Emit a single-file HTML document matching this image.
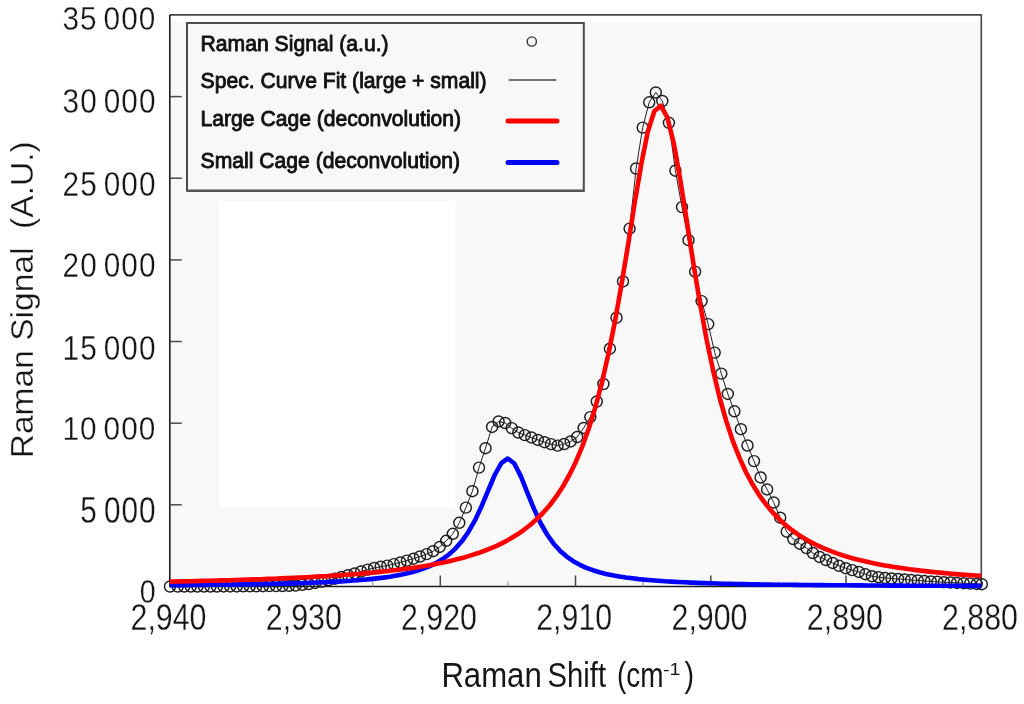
<!DOCTYPE html>
<html lang="en"><head><meta charset="utf-8"><title>Raman Spectrum</title>
<style>html,body{margin:0;padding:0;background:#fff;}body{width:1024px;height:704px;overflow:hidden;}svg{display:block;}</style>
</head><body>
<svg width="1024" height="704" viewBox="0 0 1024 704" font-family="'Liberation Sans', sans-serif">
<rect x="0" y="0" width="1024" height="704" fill="#fff"/>
<rect x="169.8" y="14.9" width="811.5" height="571.6" fill="#f8f8f8"/>
<rect x="171" y="16" width="810" height="6" fill="#fff"/>
<rect x="219" y="201" width="236.3" height="306" fill="#fff"/>
<g stroke="#4a4a4a" stroke-width="1.5" fill="none">
<path d="M169.8,14.9 H981.3 V586.5" stroke="#484848" stroke-width="1.6"/>
<path d="M169.8,14.9 V586.5 H981.3" stroke="#1c1c1c" stroke-width="1.6"/>
<path d="M169.8,504.8 h12"/>
<path d="M169.8,423.2 h12"/>
<path d="M169.8,341.5 h12"/>
<path d="M169.8,259.9 h12"/>
<path d="M169.8,178.2 h12"/>
<path d="M169.8,96.6 h12"/>
<path d="M237.4,586.5 v-5" stroke="#888" stroke-width="1"/>
<path d="M305.1,586.5 v-11"/>
<path d="M372.7,586.5 v-5" stroke="#888" stroke-width="1"/>
<path d="M440.3,586.5 v-11"/>
<path d="M507.9,586.5 v-5" stroke="#888" stroke-width="1"/>
<path d="M575.5,586.5 v-11"/>
<path d="M643.2,586.5 v-5" stroke="#888" stroke-width="1"/>
<path d="M710.8,586.5 v-11"/>
<path d="M778.4,586.5 v-5" stroke="#888" stroke-width="1"/>
<path d="M846.0,586.5 v-11"/>
<path d="M913.7,586.5 v-5" stroke="#888" stroke-width="1"/>
</g>
<path d="M170.0,586.5 L177.7,586.5 L184.3,586.5 L190.8,586.5 L197.4,586.5 L203.9,586.5 L210.5,586.5 L217.0,586.5 L223.6,586.4 L230.1,586.4 L236.7,586.4 L243.2,586.3 L249.8,586.3 L256.3,586.3 L262.9,586.2 L269.4,586.1 L276.0,586.1 L282.5,586.0 L289.1,585.8 L295.6,585.5 L302.2,584.8 L308.7,584.0 L315.3,582.9 L321.8,581.7 L328.4,580.3 L334.9,578.7 L341.5,577.0 L348.0,575.2 L354.6,573.4 L361.1,571.5 L367.7,569.6 L374.2,568.0 L380.7,566.7 L387.3,565.6 L393.8,564.1 L400.4,562.4 L406.9,560.6 L413.5,558.7 L420.0,556.5 L426.6,554.1 L433.1,551.2 L439.7,546.9 L446.2,540.8 L452.8,533.8 L459.3,522.8 L465.9,507.6 L472.4,491.2 L479.0,467.6 L485.5,448.2 L492.1,426.9 L498.6,421.4 L505.2,423.0 L511.7,428.1 L518.3,432.5 L524.8,435.1 L531.4,437.4 L537.9,439.9 L544.5,442.2 L551.0,444.1 L557.6,445.6 L564.1,444.0 L570.7,441.4 L577.2,437.0 L583.7,427.9 L590.3,417.1 L596.8,401.5 L603.4,384.0 L609.9,348.7 L616.5,317.7 L623.0,281.4 L629.6,228.6 L636.1,168.5 L642.7,127.6 L649.2,102.3 L655.8,92.4 L662.3,101.0 L668.9,122.8 L675.4,170.7 L682.0,207.1 L688.5,240.2 L695.1,271.6 L701.6,301.1 L708.2,324.1 L714.7,352.6 L721.3,373.6 L727.8,393.9 L734.4,411.3 L740.9,429.2 L747.5,445.5 L754.0,461.1 L760.6,477.4 L767.1,489.4 L773.7,502.5 L780.2,517.7 L786.7,531.7 L793.3,539.0 L799.8,543.7 L806.4,548.1 L812.9,553.0 L819.5,556.9 L826.0,560.0 L832.6,562.9 L839.1,565.8 L845.7,568.2 L852.2,570.1 L858.8,571.9 L865.3,574.2 L871.9,576.2 L878.4,577.2 L885.0,577.9 L891.5,578.5 L898.1,579.0 L904.6,579.5 L911.2,580.0 L917.7,580.5 L924.3,581.0 L930.8,581.4 L937.4,581.8 L943.9,582.2 L950.5,582.5 L957.0,582.9 L963.6,583.2 L970.1,583.6 L976.7,583.9 L981.8,584.2" fill="none" stroke="#222" stroke-width="1"/>
<g fill="none" stroke="#1e1e1e" stroke-width="1.45">
<circle cx="170.0" cy="586.5" r="5.5"/>
<circle cx="177.7" cy="586.5" r="5.5"/>
<circle cx="184.3" cy="586.5" r="5.5"/>
<circle cx="190.8" cy="586.5" r="5.5"/>
<circle cx="197.4" cy="586.5" r="5.5"/>
<circle cx="203.9" cy="586.5" r="5.5"/>
<circle cx="210.5" cy="586.5" r="5.5"/>
<circle cx="217.0" cy="586.5" r="5.5"/>
<circle cx="223.6" cy="586.4" r="5.5"/>
<circle cx="230.1" cy="586.4" r="5.5"/>
<circle cx="236.7" cy="586.4" r="5.5"/>
<circle cx="243.2" cy="586.3" r="5.5"/>
<circle cx="249.8" cy="586.3" r="5.5"/>
<circle cx="256.3" cy="586.3" r="5.5"/>
<circle cx="262.9" cy="586.2" r="5.5"/>
<circle cx="269.4" cy="586.1" r="5.5"/>
<circle cx="276.0" cy="586.1" r="5.5"/>
<circle cx="282.5" cy="586.0" r="5.5"/>
<circle cx="289.1" cy="585.8" r="5.5"/>
<circle cx="295.6" cy="585.5" r="5.5"/>
<circle cx="302.2" cy="584.8" r="5.5"/>
<circle cx="308.7" cy="584.0" r="5.5"/>
<circle cx="315.3" cy="582.9" r="5.5"/>
<circle cx="321.8" cy="581.7" r="5.5"/>
<circle cx="328.4" cy="580.3" r="5.5"/>
<circle cx="334.9" cy="578.7" r="5.5"/>
<circle cx="341.5" cy="577.0" r="5.5"/>
<circle cx="348.0" cy="575.2" r="5.5"/>
<circle cx="354.6" cy="573.4" r="5.5"/>
<circle cx="361.1" cy="571.5" r="5.5"/>
<circle cx="367.7" cy="569.6" r="5.5"/>
<circle cx="374.2" cy="568.0" r="5.5"/>
<circle cx="380.7" cy="566.7" r="5.5"/>
<circle cx="387.3" cy="565.6" r="5.5"/>
<circle cx="393.8" cy="564.1" r="5.5"/>
<circle cx="400.4" cy="562.4" r="5.5"/>
<circle cx="406.9" cy="560.6" r="5.5"/>
<circle cx="413.5" cy="558.7" r="5.5"/>
<circle cx="420.0" cy="556.5" r="5.5"/>
<circle cx="426.6" cy="554.1" r="5.5"/>
<circle cx="433.1" cy="551.2" r="5.5"/>
<circle cx="439.7" cy="546.9" r="5.5"/>
<circle cx="446.2" cy="540.8" r="5.5"/>
<circle cx="452.8" cy="533.8" r="5.5"/>
<circle cx="459.3" cy="522.8" r="5.5"/>
<circle cx="465.9" cy="507.6" r="5.5"/>
<circle cx="472.4" cy="491.2" r="5.5"/>
<circle cx="479.0" cy="467.6" r="5.5"/>
<circle cx="485.5" cy="448.2" r="5.5"/>
<circle cx="492.1" cy="426.9" r="5.5"/>
<circle cx="498.6" cy="421.4" r="5.5"/>
<circle cx="505.2" cy="423.0" r="5.5"/>
<circle cx="511.7" cy="428.1" r="5.5"/>
<circle cx="518.3" cy="432.5" r="5.5"/>
<circle cx="524.8" cy="435.1" r="5.5"/>
<circle cx="531.4" cy="437.4" r="5.5"/>
<circle cx="537.9" cy="439.9" r="5.5"/>
<circle cx="544.5" cy="442.2" r="5.5"/>
<circle cx="551.0" cy="444.1" r="5.5"/>
<circle cx="557.6" cy="445.6" r="5.5"/>
<circle cx="564.1" cy="444.0" r="5.5"/>
<circle cx="570.7" cy="441.4" r="5.5"/>
<circle cx="577.2" cy="437.0" r="5.5"/>
<circle cx="583.7" cy="427.9" r="5.5"/>
<circle cx="590.3" cy="417.1" r="5.5"/>
<circle cx="596.8" cy="401.5" r="5.5"/>
<circle cx="603.4" cy="384.0" r="5.5"/>
<circle cx="609.9" cy="348.7" r="5.5"/>
<circle cx="616.5" cy="317.7" r="5.5"/>
<circle cx="623.0" cy="281.4" r="5.5"/>
<circle cx="629.6" cy="228.6" r="5.5"/>
<circle cx="636.1" cy="168.5" r="5.5"/>
<circle cx="642.7" cy="127.6" r="5.5"/>
<circle cx="649.2" cy="102.3" r="5.5"/>
<circle cx="655.8" cy="92.4" r="5.5"/>
<circle cx="662.3" cy="101.0" r="5.5"/>
<circle cx="668.9" cy="122.8" r="5.5"/>
<circle cx="675.4" cy="170.7" r="5.5"/>
<circle cx="682.0" cy="207.1" r="5.5"/>
<circle cx="688.5" cy="240.2" r="5.5"/>
<circle cx="695.1" cy="271.6" r="5.5"/>
<circle cx="701.6" cy="301.1" r="5.5"/>
<circle cx="708.2" cy="324.1" r="5.5"/>
<circle cx="714.7" cy="352.6" r="5.5"/>
<circle cx="721.3" cy="373.6" r="5.5"/>
<circle cx="727.8" cy="393.9" r="5.5"/>
<circle cx="734.4" cy="411.3" r="5.5"/>
<circle cx="740.9" cy="429.2" r="5.5"/>
<circle cx="747.5" cy="445.5" r="5.5"/>
<circle cx="754.0" cy="461.1" r="5.5"/>
<circle cx="760.6" cy="477.4" r="5.5"/>
<circle cx="767.1" cy="489.4" r="5.5"/>
<circle cx="773.7" cy="502.5" r="5.5"/>
<circle cx="780.2" cy="517.7" r="5.5"/>
<circle cx="786.7" cy="531.7" r="5.5"/>
<circle cx="793.3" cy="539.0" r="5.5"/>
<circle cx="799.8" cy="543.7" r="5.5"/>
<circle cx="806.4" cy="548.1" r="5.5"/>
<circle cx="812.9" cy="553.0" r="5.5"/>
<circle cx="819.5" cy="556.9" r="5.5"/>
<circle cx="826.0" cy="560.0" r="5.5"/>
<circle cx="832.6" cy="562.9" r="5.5"/>
<circle cx="839.1" cy="565.8" r="5.5"/>
<circle cx="845.7" cy="568.2" r="5.5"/>
<circle cx="852.2" cy="570.1" r="5.5"/>
<circle cx="858.8" cy="571.9" r="5.5"/>
<circle cx="865.3" cy="574.2" r="5.5"/>
<circle cx="871.9" cy="576.2" r="5.5"/>
<circle cx="878.4" cy="577.2" r="5.5"/>
<circle cx="885.0" cy="577.9" r="5.5"/>
<circle cx="891.5" cy="578.5" r="5.5"/>
<circle cx="898.1" cy="579.0" r="5.5"/>
<circle cx="904.6" cy="579.5" r="5.5"/>
<circle cx="911.2" cy="580.0" r="5.5"/>
<circle cx="917.7" cy="580.5" r="5.5"/>
<circle cx="924.3" cy="581.0" r="5.5"/>
<circle cx="930.8" cy="581.4" r="5.5"/>
<circle cx="937.4" cy="581.8" r="5.5"/>
<circle cx="943.9" cy="582.2" r="5.5"/>
<circle cx="950.5" cy="582.5" r="5.5"/>
<circle cx="957.0" cy="582.9" r="5.5"/>
<circle cx="963.6" cy="583.2" r="5.5"/>
<circle cx="970.1" cy="583.6" r="5.5"/>
<circle cx="976.7" cy="583.9" r="5.5"/>
<circle cx="981.8" cy="584.2" r="5.5"/>
</g>
<path d="M169.8,585.2 L173.9,585.2 L180.4,585.1 L186.9,585.1 L193.5,585.0 L200.0,585.0 L206.6,584.9 L213.1,584.8 L219.7,584.7 L226.2,584.7 L232.8,584.6 L239.3,584.5 L245.9,584.4 L252.4,584.3 L259.0,584.2 L265.5,584.0 L272.1,583.9 L278.6,583.7 L285.2,583.6 L291.7,583.4 L298.3,583.2 L304.8,583.0 L311.4,582.8 L317.9,582.5 L324.5,582.2 L331.0,581.9 L337.6,581.6 L344.1,581.2 L350.6,580.8 L357.2,580.3 L363.7,579.7 L370.3,579.1 L376.8,578.4 L383.4,577.6 L389.9,576.7 L396.5,575.6 L403.0,574.3 L409.6,572.8 L416.1,571.0 L422.7,568.9 L429.2,566.3 L435.8,563.2 L442.3,559.3 L448.9,554.5 L455.4,548.6 L462.0,541.1 L468.5,531.7 L475.1,520.1 L481.6,506.2 L488.2,490.5 L494.7,475.0 L501.3,463.1 L507.8,458.5 L514.3,463.5 L520.9,476.4 L527.4,492.8 L534.0,508.9 L540.5,523.0 L547.1,534.5 L553.6,543.7 L560.2,550.9 L566.7,556.6 L573.3,561.2 L579.8,564.8 L586.4,567.8 L592.9,570.2 L599.5,572.2 L606.0,573.9 L612.6,575.3 L619.1,576.4 L625.7,577.5 L632.2,578.3 L638.8,579.1 L645.3,579.7 L651.9,580.3 L658.4,580.8 L665.0,581.3 L671.5,581.6 L678.0,582.0 L684.6,582.3 L691.1,582.6 L697.7,582.9 L704.2,583.1 L710.8,583.3 L717.3,583.5 L723.9,583.7 L730.4,583.8 L737.0,584.0 L743.5,584.1 L750.1,584.2 L756.6,584.4 L763.2,584.5 L769.7,584.6 L776.3,584.7 L782.8,584.7 L789.4,584.8 L795.9,584.9 L802.5,585.0 L809.0,585.0 L815.6,585.1 L822.1,585.1 L828.7,585.2 L835.2,585.3 L841.7,585.3 L848.3,585.3 L854.8,585.4 L861.4,585.4 L867.9,585.5 L874.5,585.5 L881.0,585.5 L887.6,585.6 L894.1,585.6 L900.7,585.6 L907.2,585.7 L913.8,585.7 L920.3,585.7 L926.9,585.7 L933.4,585.8 L940.0,585.8 L946.5,585.8 L953.1,585.8 L959.6,585.8 L966.2,585.9 L972.7,585.9 L979.3,585.9 L981.3,585.9" fill="none" stroke="#0000ff" stroke-width="4.6" stroke-linejoin="round"/>
<path d="M169.8,581.6 L176.2,581.5 L182.8,581.4 L189.3,581.2 L195.9,581.1 L202.4,580.9 L209.0,580.7 L215.5,580.6 L222.1,580.4 L228.6,580.2 L235.2,580.0 L241.7,579.8 L248.3,579.6 L254.8,579.4 L261.4,579.2 L267.9,578.9 L274.5,578.7 L281.0,578.4 L287.6,578.1 L294.1,577.8 L300.7,577.5 L307.2,577.2 L313.8,576.8 L320.3,576.4 L326.9,576.1 L333.4,575.6 L339.9,575.2 L346.5,574.7 L353.0,574.2 L359.6,573.7 L366.1,573.1 L372.7,572.6 L379.2,571.9 L385.8,571.2 L392.3,570.5 L398.9,569.7 L405.4,568.9 L412.0,568.0 L418.5,567.0 L425.1,565.9 L431.6,564.8 L438.2,563.5 L444.7,562.2 L451.3,560.7 L457.8,559.1 L464.4,557.4 L470.9,555.4 L477.5,553.3 L484.0,551.0 L490.6,548.4 L497.1,545.6 L503.6,542.4 L510.2,538.8 L516.7,534.8 L523.3,530.3 L529.8,525.3 L536.4,519.5 L542.9,513.0 L549.5,505.5 L556.0,496.9 L562.6,487.0 L569.1,475.5 L575.7,462.2 L582.2,446.7 L588.8,428.5 L595.3,407.3 L601.9,382.6 L608.4,354.0 L615.0,321.3 L621.5,284.5 L628.1,244.6 L634.6,203.5 L641.2,164.5 L647.7,132.1 L654.3,111.2 L660.8,105.8 L667.3,117.3 L673.9,143.9 L680.4,180.7 L687.0,222.3 L693.5,264.3 L700.1,303.9 L706.6,339.6 L713.2,370.9 L719.7,398.0 L726.3,421.1 L732.8,440.8 L739.4,457.6 L745.9,472.0 L752.5,484.3 L759.0,494.8 L765.6,503.9 L772.1,511.8 L778.7,518.7 L785.2,524.7 L791.8,530.0 L798.3,534.6 L804.9,538.7 L811.4,542.4 L818.0,545.7 L824.5,548.6 L831.0,551.2 L837.6,553.6 L844.1,555.8 L850.7,557.7 L857.2,559.5 L863.8,561.1 L870.3,562.6 L876.9,563.9 L883.4,565.2 L890.0,566.3 L896.5,567.4 L903.1,568.3 L909.6,569.3 L916.2,570.1 L922.7,570.9 L929.3,571.6 L935.8,572.3 L942.4,572.9 L948.9,573.5 L955.5,574.1 L962.0,574.6 L968.6,575.1 L975.1,575.5 L981.3,575.9" fill="none" stroke="#ff0000" stroke-width="4.6" stroke-linejoin="round"/>
<rect x="187" y="23" width="396.8" height="167.5" fill="#f8f8f8" stroke="#4c4c4c" stroke-width="2"/>
<path d="M187,191 H584.5" stroke="#555" stroke-width="2.2"/>
<text x="200.6" y="50.5" font-size="22" textLength="188" lengthAdjust="spacingAndGlyphs" fill="#111" stroke="#111" stroke-width="0.9" stroke-linejoin="round">Raman Signal (a.u.)</text>
<text x="200.6" y="87.9" font-size="22" textLength="286" lengthAdjust="spacingAndGlyphs" fill="#111" stroke="#111" stroke-width="0.9" stroke-linejoin="round">Spec. Curve Fit (large + small)</text>
<text x="200.6" y="126.4" font-size="22" textLength="260.5" lengthAdjust="spacingAndGlyphs" fill="#111" stroke="#111" stroke-width="0.9" stroke-linejoin="round">Large Cage (deconvolution)</text>
<text x="200.6" y="167.9" font-size="22" textLength="259.5" lengthAdjust="spacingAndGlyphs" fill="#111" stroke="#111" stroke-width="0.9" stroke-linejoin="round">Small Cage (deconvolution)</text>
<circle cx="531.8" cy="41.5" r="4.6" fill="none" stroke="#333" stroke-width="1.4"/>
<path d="M508.7,80 H556.3" stroke="#444" stroke-width="1.3"/>
<path d="M508,121 H557" stroke="#ff0000" stroke-width="5" stroke-linecap="round"/>
<path d="M508,162.5 H557" stroke="#0000ff" stroke-width="5" stroke-linecap="round"/>
<text transform="translate(155.6,602.6) scale(0.84,1)" text-anchor="end" font-size="34" fill="#151515" stroke="#fff" stroke-width="0.3">0</text>
<text transform="translate(156.5,522.6) scale(0.793,1)" text-anchor="end" font-size="37.5" letter-spacing="1.25" word-spacing="-4.0" fill="#151515" stroke="#fff" stroke-width="0.3">5 000</text>
<text transform="translate(156.5,439.5) scale(0.888,1)" text-anchor="end" font-size="33.5" letter-spacing="1.25" word-spacing="-4.0" fill="#151515" stroke="#fff" stroke-width="0.3">10 000</text>
<text transform="translate(156.5,359.5) scale(0.867,1)" text-anchor="end" font-size="34.3" letter-spacing="1.25" word-spacing="-4.0" fill="#151515" stroke="#fff" stroke-width="0.3">15 000</text>
<text transform="translate(156.5,276.9) scale(0.867,1)" text-anchor="end" font-size="34.3" letter-spacing="1.25" word-spacing="-4.0" fill="#151515" stroke="#fff" stroke-width="0.3">20 000</text>
<text transform="translate(156.5,195.6) scale(0.867,1)" text-anchor="end" font-size="34.3" letter-spacing="1.25" word-spacing="-4.0" fill="#151515" stroke="#fff" stroke-width="0.3">25 000</text>
<text transform="translate(156.5,112.7) scale(0.867,1)" text-anchor="end" font-size="34.3" letter-spacing="1.25" word-spacing="-4.0" fill="#151515" stroke="#fff" stroke-width="0.3">30 000</text>
<text transform="translate(156.5,30.0) scale(0.915,1)" text-anchor="end" font-size="32.5" letter-spacing="1.25" word-spacing="-4.0" fill="#151515" stroke="#fff" stroke-width="0.3">35 000</text>
<text transform="translate(168.5,629.5) scale(0.82,1)" text-anchor="middle" font-size="37" fill="#151515" stroke="#fff" stroke-width="0.3">2,940</text>
<text transform="translate(303.8,629.5) scale(0.82,1)" text-anchor="middle" font-size="37" fill="#151515" stroke="#fff" stroke-width="0.3">2,930</text>
<text transform="translate(439.0,629.5) scale(0.82,1)" text-anchor="middle" font-size="37" fill="#151515" stroke="#fff" stroke-width="0.3">2,920</text>
<text transform="translate(574.2,629.5) scale(0.82,1)" text-anchor="middle" font-size="37" fill="#151515" stroke="#fff" stroke-width="0.3">2,910</text>
<text transform="translate(709.5,629.5) scale(0.82,1)" text-anchor="middle" font-size="37" fill="#151515" stroke="#fff" stroke-width="0.3">2,900</text>
<text transform="translate(844.8,629.5) scale(0.82,1)" text-anchor="middle" font-size="37" fill="#151515" stroke="#fff" stroke-width="0.3">2,890</text>
<text transform="translate(980.0,629.5) scale(0.82,1)" text-anchor="middle" font-size="37" fill="#151515" stroke="#fff" stroke-width="0.3">2,880</text>
<text y="687.2" font-size="35.3" fill="#151515" lengthAdjust="spacingAndGlyphs"><tspan x="441.4" textLength="100.3" lengthAdjust="spacingAndGlyphs">Raman</tspan><tspan> </tspan><tspan x="547.6" textLength="58.5" lengthAdjust="spacingAndGlyphs">Shift</tspan><tspan> </tspan><tspan x="617" textLength="46.5" lengthAdjust="spacingAndGlyphs">(cm</tspan><tspan x="663" font-size="17" dy="-12" textLength="17.5" lengthAdjust="spacingAndGlyphs">-1</tspan><tspan x="684.4" dy="12" textLength="9.6" lengthAdjust="spacingAndGlyphs">)</tspan></text>
<text transform="translate(32.5,458.3) rotate(-90)" font-size="31" textLength="317" lengthAdjust="spacingAndGlyphs" fill="#151515" stroke="#fff" stroke-width="0.3" xml:space="preserve">Raman Signal  (A.U.)</text>
</svg>
</body></html>
